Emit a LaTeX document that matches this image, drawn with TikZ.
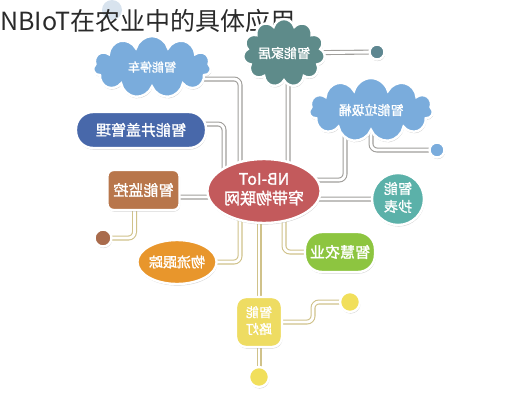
\documentclass[tikz,border=0pt]{standalone}
\usepackage{fontspec}
\newfontfamily\cjk{Noto Sans CJK SC}
\newfontfamily\cjkb[FakeBold=1.5]{Noto Sans CJK SC}
\usetikzlibrary{shapes.geometric,shapes.symbols,shadows,backgrounds}
\definecolor{titlec}{HTML}{2A2A2A}
\definecolor{ghost}{HTML}{D8E3EE}
\definecolor{skyb}{HTML}{7AACDC}
\definecolor{tealdk}{HTML}{5E8B8A}
\definecolor{tealdot}{HTML}{5E8791}
\definecolor{navy}{HTML}{4868AA}
\definecolor{brownc}{HTML}{B8764B}
\definecolor{browndot}{HTML}{A96B4C}
\definecolor{redc}{HTML}{C35A5C}
\definecolor{tealc}{HTML}{5BB1A9}
\definecolor{greenc}{HTML}{8DC540}
\definecolor{orangec}{HTML}{E8962C}
\definecolor{yellowc}{HTML}{EEDC62}
\definecolor{yellowdot}{HTML}{F1DF5B}
\definecolor{pipeg}{HTML}{A09E9B}
\definecolor{pipet}{HTML}{D0C28A}
\newcommand\mirr[1]{\scalebox{-1}[1]{#1}}
\begin{document}
\begin{tikzpicture}[x=1pt,y=-1pt,
  sticker/.style={draw=white, line width=2.4pt, text=white,
    drop shadow={shadow xshift=0.6pt, shadow yshift=-1.6pt, opacity=0.35}, inner sep=2pt},
  cloudbox/.style={sticker, cloud, cloud puffs=11, cloud ignores aspect},
  pipe/.style={draw=#1, line width=1.1pt, double=white, double distance=2.8pt, rounded corners=6pt},
  pipe/.default=pipeg,
  dot/.style={sticker, circle, inner sep=0pt},
  fs/.style={font=\cjkb\fontsize{#1}{#1}\selectfont}]
\useasboundingbox (0,0) rectangle (520,400);
\node[circle, fill=ghost, minimum size=20pt, inner sep=0pt] (ghostdot) at (112,10) {};
\node[anchor=west, inner sep=0pt, font=\cjk\fontsize{25}{25}\selectfont, text=titlec] (title) at (0,21) {NBIoT在农业中的具体应用};

\node[cloudbox, minimum width=118pt, minimum height=62pt, fill=skyb, fs=12] (park) at (152,67) {\mirr{智能停车}};
\node[cloudbox, minimum width=82pt, minimum height=68pt, fill=tealdk, fs=13] (home) at (284,53) {\mirr{智能家居}};
\node[dot, minimum size=15pt, fill=tealdot] (homedot) at (377,52) {};
\node[cloudbox, minimum width=124pt, minimum height=64pt, fill=skyb, fs=13] (trash) at (371,110) {\mirr{智能垃圾桶}};
\node[dot, minimum size=15pt, fill=skyb] (trashdot) at (437,150) {};
\node[sticker, rectangle, rounded corners=17pt, minimum width=130pt, minimum height=36pt, fill=navy, fs=15] (manhole) at (141,130) {\mirr{智能井盖管理}};
\node[sticker, rectangle, rounded corners=6pt, minimum width=72pt, minimum height=40pt, fill=brownc, fs=15] (monitor) at (143.5,190) {\mirr{智能监控}};
\node[dot, minimum size=17pt, fill=browndot] (mondot) at (103,238) {};
\node[sticker, ellipse, minimum width=106pt, minimum height=64pt, inner sep=0pt, fill=redc, fs=16] (nb) at (264,191)
  {\mirr{\begin{tabular}{@{}c@{}}NB-IoT\\[1pt]窄带物联网\end{tabular}}};
\node[sticker, circle, minimum size=52pt, inner sep=0pt, fill=tealc, fs=14] (meter) at (398,199)
  {\mirr{\begin{tabular}{@{}c@{}}智能\\[2pt]抄表\end{tabular}}};
\node[sticker, rectangle, rounded corners=17pt, minimum width=70pt, minimum height=40pt, fill=greenc, fs=15] (agri) at (340,252) {\mirr{智慧农业}};
\node[sticker, ellipse, minimum width=72pt, minimum height=44pt, inner sep=0pt, fill=orangec, fs=14] (logi) at (177,262) {\mirr{物流跟踪}};
\node[sticker, rectangle, rounded corners=10pt, minimum width=46pt, minimum height=50pt, inner sep=0pt, fill=yellowc, fs=13] (light) at (259,322)
  {\mirr{\begin{tabular}{@{}c@{}}智能\\[2pt]路灯\end{tabular}}};
\node[dot, minimum size=20pt, fill=yellowdot] (ldot1) at (350,302) {};
\node[dot, minimum size=20pt, fill=yellowdot] (ldot2) at (259,377) {};

\begin{scope}[on background layer]
\draw[pipe] ([yshift=-12pt]park.center) -| ([xshift=-24pt]nb.center);
\draw[pipe] ([yshift=6pt]manhole.center) -| ([xshift=-40pt]nb.center);
\draw[pipe] ([xshift=4pt]home.center) |- (nb.center);
\draw[pipe] (home.center) -- (homedot.center);
\draw[pipe] ([xshift=-26pt]trash.center) |- ([yshift=11pt]nb.center);
\draw[pipe] (trash.center) |- (trashdot.center);
\draw[pipe] (meter.center) -| (nb.center);
\draw[pipe] ([yshift=-7pt]monitor.center) -| (nb.center);
\draw[pipe=pipet] ([xshift=-9pt]monitor.center) |- (mondot.center);
\draw[pipe=pipet] ([xshift=-24pt]nb.center) |- (logi.center);
\draw[pipe=pipet] ([xshift=-5pt]nb.center) -- (light.center);
\draw[pipe=pipet] ([xshift=20pt]nb.center) |- (agri.center);
\draw[pipe=pipet] (light.center) -- ++(54,0) |- (ldot1.center);
\draw[pipe=pipet] (light.center) -- (ldot2.center);
\end{scope}
\end{tikzpicture}
\end{document}
